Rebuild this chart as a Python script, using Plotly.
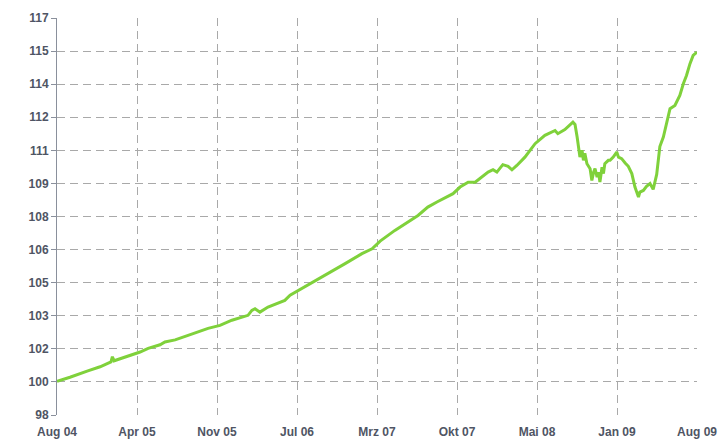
import plotly.graph_objects as go
import pandas as pd

dates = [
    "2004-08-01", "2004-09-07", "2004-10-28", "2004-12-02", "2005-01-02", "2005-01-06",
    "2005-01-11", "2005-02-11", "2005-03-06", "2005-03-26", "2005-04-18", "2005-05-22",
    "2005-06-05", "2005-07-04", "2005-08-10", "2005-09-13", "2005-10-06", "2005-11-09",
    "2005-12-13", "2006-01-28", "2006-02-08", "2006-02-17", "2006-03-03", "2006-03-26",
    "2006-05-13", "2006-05-28", "2006-06-25", "2006-08-21", "2006-11-01", "2006-12-19",
    "2007-01-17", "2007-02-09", "2007-03-23", "2007-05-28", "2007-06-25", "2007-07-21",
    "2007-08-13", "2007-09-05", "2007-09-25", "2007-10-18", "2007-11-07", "2007-12-14",
    "2007-12-28", "2008-01-08", "2008-01-25", "2008-02-09", "2008-02-20", "2008-03-05",
    "2008-03-28", "2008-04-26", "2008-05-24", "2008-06-22", "2008-06-30", "2008-07-20",
    "2008-08-12", "2008-08-18", "2008-08-24", "2008-08-28", "2008-09-01", "2008-09-07",
    "2008-09-11", "2008-09-15", "2008-09-21", "2008-09-30", "2008-10-05", "2008-10-10",
    "2008-10-14", "2008-10-20", "2008-10-24", "2008-10-28", "2008-11-03", "2008-11-07",
    "2008-11-11", "2008-11-21", "2008-11-26", "2008-12-05", "2008-12-15", "2008-12-20",
    "2008-12-29", "2009-01-08", "2009-01-17", "2009-01-27", "2009-02-05", "2009-02-15",
    "2009-02-19", "2009-03-01", "2009-03-10", "2009-03-20", "2009-03-29", "2009-04-08",
    "2009-04-13", "2009-04-17", "2009-04-27", "2009-05-06", "2009-05-16", "2009-05-30",
    "2009-06-13", "2009-06-23", "2009-07-02", "2009-07-12", "2009-07-21", "2009-08-01",
]
values = [
    100.00, 100.19, 100.49, 100.68, 100.91, 101.15,
    100.96, 101.12, 101.26, 101.37, 101.54, 101.71,
    101.84, 101.94, 102.15, 102.34, 102.48, 102.62,
    102.86, 103.09, 103.32, 103.40, 103.24, 103.48,
    103.79, 104.03, 104.29, 104.81, 105.51, 105.98,
    106.21, 106.57, 107.07, 107.77, 108.16, 108.40,
    108.60, 108.79, 109.10, 109.33, 109.33, 109.80,
    109.91, 109.80, 110.15, 110.07, 109.91, 110.11,
    110.50, 111.13, 111.52, 111.75, 111.60, 111.79,
    112.14, 112.03, 111.44, 110.82, 110.50, 110.82,
    110.35, 110.68, 110.19, 109.96, 109.41, 109.80,
    109.96, 109.57, 109.80, 109.33, 110.03, 109.73,
    110.19, 110.35, 110.35, 110.50, 110.74, 110.50,
    110.43, 110.23, 110.07, 109.73, 109.10, 108.63,
    108.86, 108.94, 109.13, 109.26, 108.99, 109.69,
    110.49, 111.00, 111.44, 112.07, 112.77, 112.92,
    113.39, 113.94, 114.33, 114.88, 115.27, 115.42,
]

x_tick_labels = ["Aug 04", "Apr 05", "Nov 05", "Jul 06", "Mrz 07", "Okt 07", "Mai 08", "Jan 09", "Aug 09"]
y_tick_labels = ["98", "100", "102", "103", "105", "106", "108", "109", "111", "112", "114", "115", "117"]

x_start, x_end = "2004-08-01", "2009-08-01"
y_min, y_max = 98.42, 117.02

x_ticks = pd.date_range(x_start, x_end, periods=len(x_tick_labels))
y_step = (y_max - y_min) / (len(y_tick_labels) - 1)
y_ticks = [y_min + i * y_step for i in range(len(y_tick_labels))]

fig = go.Figure(
    go.Scatter(
        x=pd.to_datetime(dates),
        y=values,
        mode="lines",
        line=dict(color="#7fd13b", width=3),
        hoverinfo="skip",
    )
)

font_col = "#4f5564"
grid_col = "#a9a9a9"

fig.update_layout(
    width=722,
    height=440,
    margin=dict(l=57, r=25, t=18, b=25, autoexpand=False),
    paper_bgcolor="white",
    plot_bgcolor="white",
    showlegend=False,
    font=dict(family="Liberation Sans, Arial, sans-serif", size=12, color=font_col),
)

fig.update_xaxes(
    type="date",
    range=[x_start, x_end],
    tickvals=x_ticks,
    ticktext=[f"<b>{t}</b>" for t in x_tick_labels],
    showgrid=True,
    gridcolor=grid_col,
    griddash="8px,5px",
    gridwidth=1,
    showline=False,
    zeroline=False,
    ticks="outside",
    ticklen=6,
    tickcolor="rgba(0,0,0,0)",
)

fig.update_yaxes(
    range=[y_min, y_max],
    tickvals=y_ticks,
    ticktext=[f"<b>{t}</b>" for t in y_tick_labels],
    showgrid=True,
    gridcolor=grid_col,
    griddash="8px,5px",
    gridwidth=1,
    showline=True,
    linecolor="#8a909c",
    linewidth=1,
    zeroline=False,
    ticks="outside",
    ticklen=5,
    tickcolor="#8a909c",
)

fig.write_html(
    "out.html",
    config={"displayModeBar": False},
    post_script="document.body.style.margin='0';document.body.style.padding='0';",
)
